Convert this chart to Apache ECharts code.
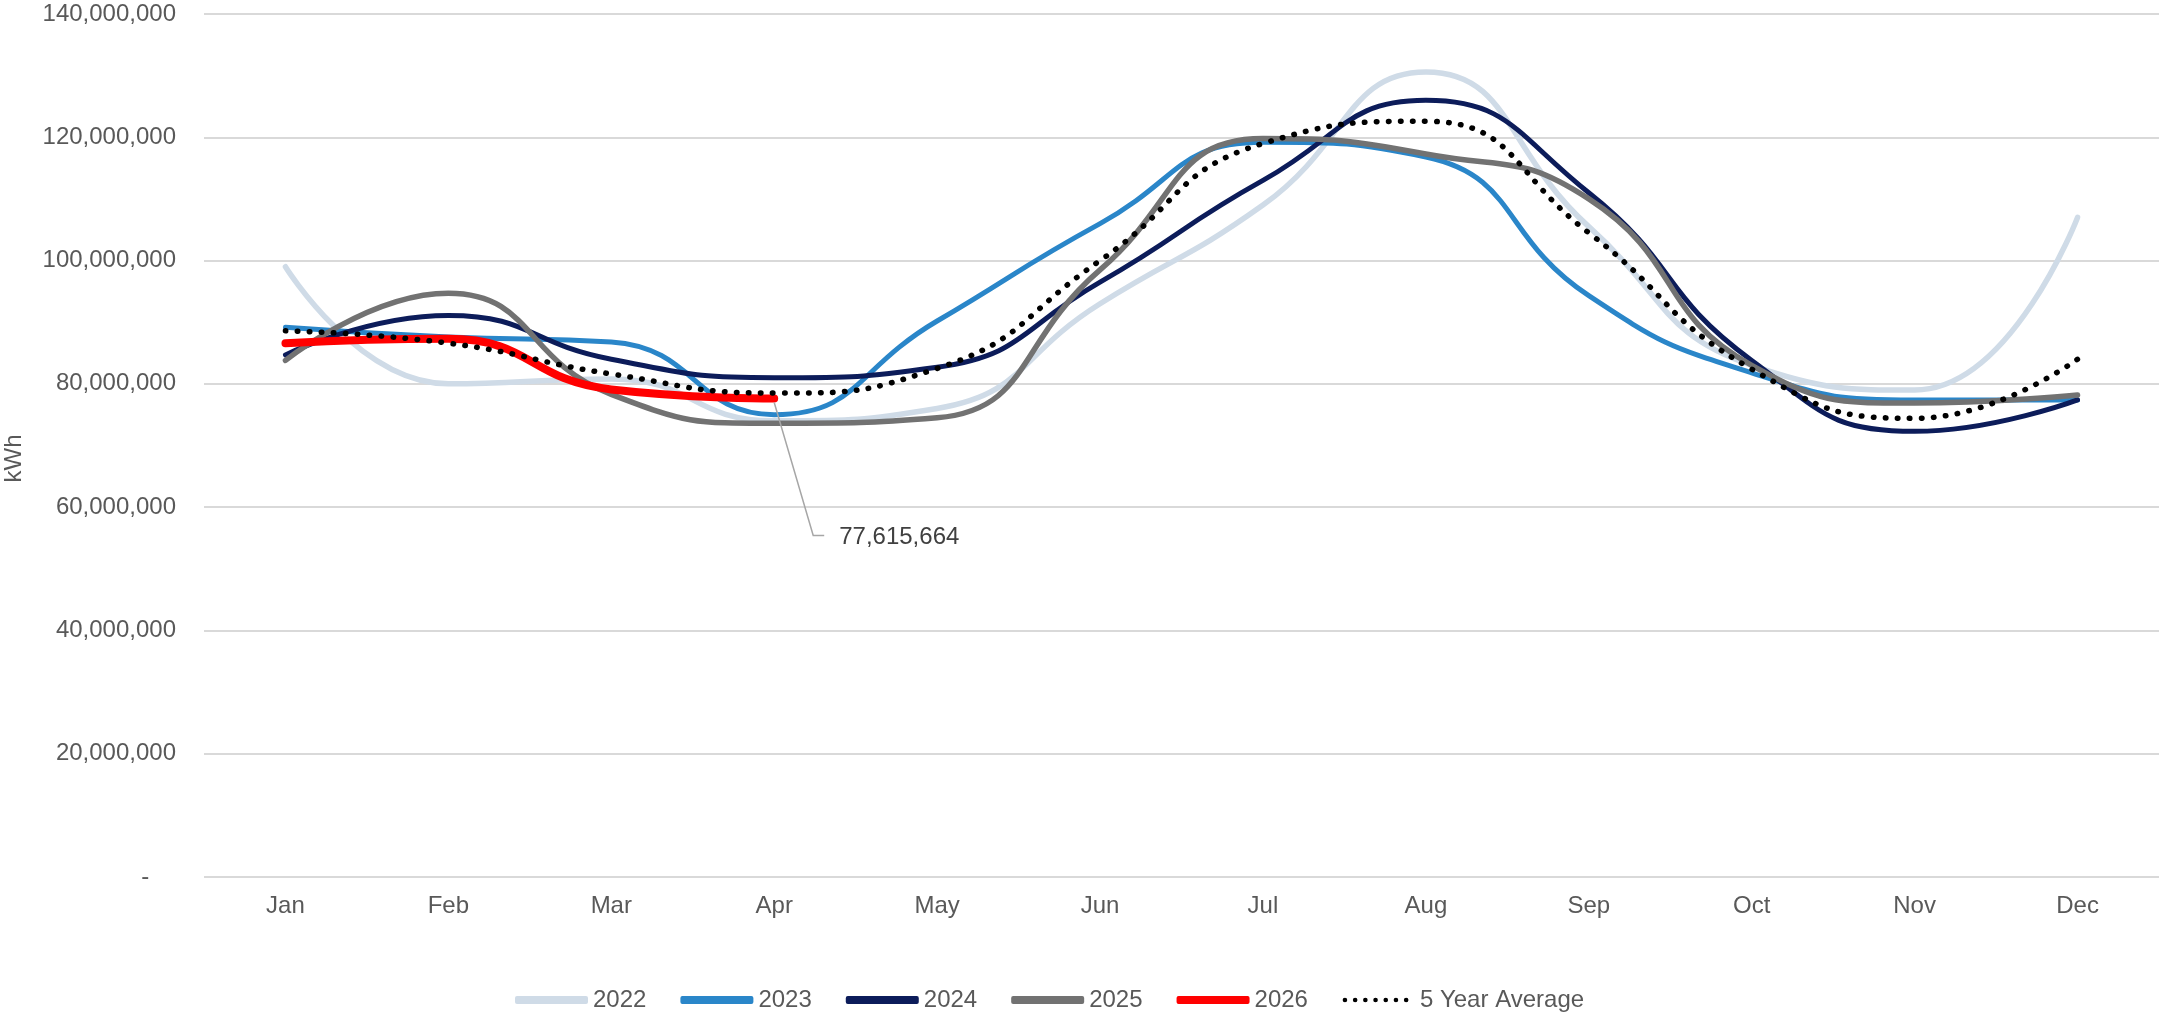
<!DOCTYPE html>
<html><head><meta charset="utf-8">
<script src="https://cdn.jsdelivr.net/npm/echarts@6/dist/echarts.min.js"></script>
<style>html,body{margin:0;padding:0;background:#fff}#c{width:2159px;height:1013px}</style>
</head><body><div id="c"></div>
<script>
const months = ['Jan','Feb','Mar','Apr','May','Jun','Jul','Aug','Sep','Oct','Nov','Dec'];
const s2022 = [99.0, 80.0, 80.8, 74.0, 76.0, 93.0, 109.0, 130.6, 105.5, 83.0, 79.0, 107.0];
const s2023 = [89.2, 87.6, 86.8, 75.0, 90.2, 106.0, 119.2, 116.8, 94.3, 81.8, 77.4, 77.4];
const s2024 = [84.7, 91.1, 84.0, 81.0, 82.7, 96.5, 113.0, 126.0, 111.0, 83.8, 72.3, 77.4];
const s2025 = [83.8, 94.7, 78.3, 73.6, 74.5, 98.5, 119.8, 117.3, 110.0, 83.0, 76.9, 78.2];
const s2026 = [86.6, 87.3, 79.1, 77.615664];
const sAvg  = [88.6, 86.6, 81.6, 78.5, 82.5, 100.0, 119.0, 122.6, 104.5, 82.4, 74.4, 84.0];
const yTicks = [0, 20, 40, 60, 80, 100, 120, 140];
const M = 1e6;
const toV = a => a.map(v => Math.round(v * M));

const font = 'Liberation Sans, Arial, sans-serif';
const txt = '#595959';
const chart = echarts.init(document.getElementById('c'));

function line(name, data, color, width, extra) {
  return Object.assign({
    name, type: 'line', data: toV(data), smooth: 0.5, symbol: 'none',
    lineStyle: { color, width, cap: 'round' }, itemStyle: { color }
  }, extra || {});
}

// legend icon for dotted series: 7 dots inside a 73x8 box
let dots = 'path://M0,0M73,8';
for (let i = 0; i < 7; i++) {
  const cx = 3 + i * 10.2, r = 2.3;
  dots += `M${(cx - r).toFixed(2)},4a${r},${r} 0 1,0 ${2 * r},0a${r},${r} 0 1,0 ${-2 * r},0Z`;
}

chart.setOption({
  animation: false,
  grid: { left: 204, right: 0, top: 14, bottom: 136, outerBoundsMode: 'none' },
  xAxis: {
    type: 'category', data: months, boundaryGap: true,
    axisLine: { show: false }, axisTick: { show: false },
    axisLabel: { color: txt, fontSize: 24, fontFamily: font, margin: 17 }
  },
  yAxis: {
    type: 'value', min: 0, max: yTicks[yTicks.length - 1] * M, interval: 20 * M,
    name: 'kWh', nameLocation: 'middle', nameGap: 178, nameRotate: 90,
    nameTextStyle: { color: txt, fontSize: 24, fontFamily: font, padding: [0, 26, 0, 0] },
    axisLine: { show: false }, axisTick: { show: false },
    axisLabel: {
      color: txt, fontSize: 24, fontFamily: font, margin: 28,
      formatter: v => v === 0 ? '-    ' : v.toLocaleString('en-US')
    },
    splitLine: { lineStyle: { color: '#d9d9d9', width: 2 } }
  },
  legend: {
    left: 515, top: 988, padding: 0, itemWidth: 73, itemHeight: 8, itemGap: 34,
    textStyle: { color: txt, fontSize: 24, fontFamily: font },
    data: [
      { name: '2022', icon: 'roundRect' },
      { name: '2023', icon: 'roundRect' },
      { name: '2024', icon: 'roundRect' },
      { name: '2025', icon: 'roundRect' },
      { name: '2026', icon: 'roundRect' },
      { name: '5 Year Average', icon: dots }
    ]
  },
  series: [
    line('2022', s2022, '#cfdbe7', 5.5),
    line('2023', s2023, '#2a86c9', 5),
    line('2024', s2024, '#0c1c5a', 5),
    line('2025', s2025, '#727272', 5.5),
    line('2026', s2026, '#ff0000', 8),
    line('5 Year Average', sAvg, '#000000', 5.5, {
      lineStyle: { color: '#000', width: 5.5, type: [0.5, 11.5], cap: 'round' }
    })
  ]
});

// annotation for the latest 2026 value, anchored through the chart's own scales
const last = s2026.length - 1;
const lastVal = Math.round(s2026[last] * M);
const p = chart.convertToPixel({ xAxisIndex: 0, yAxisIndex: 0 }, [months[last], lastVal]);
chart.setOption({
  graphic: [
    { type: 'polyline', silent: true, z: 20,
      shape: { points: [[p[0], p[1] + 4], [p[0] + 39, p[1] + 137], [p[0] + 50, p[1] + 137]] },
      style: { stroke: '#a6a6a6', lineWidth: 1.5, fill: null } },
    { type: 'text', silent: true, z: 20, x: p[0] + 65, y: p[1] + 139,
      style: { text: lastVal.toLocaleString('en-US'), fill: '#404040', fontSize: 24,
               fontFamily: font, verticalAlign: 'middle', align: 'left' } }
  ]
});
</script></body></html>
